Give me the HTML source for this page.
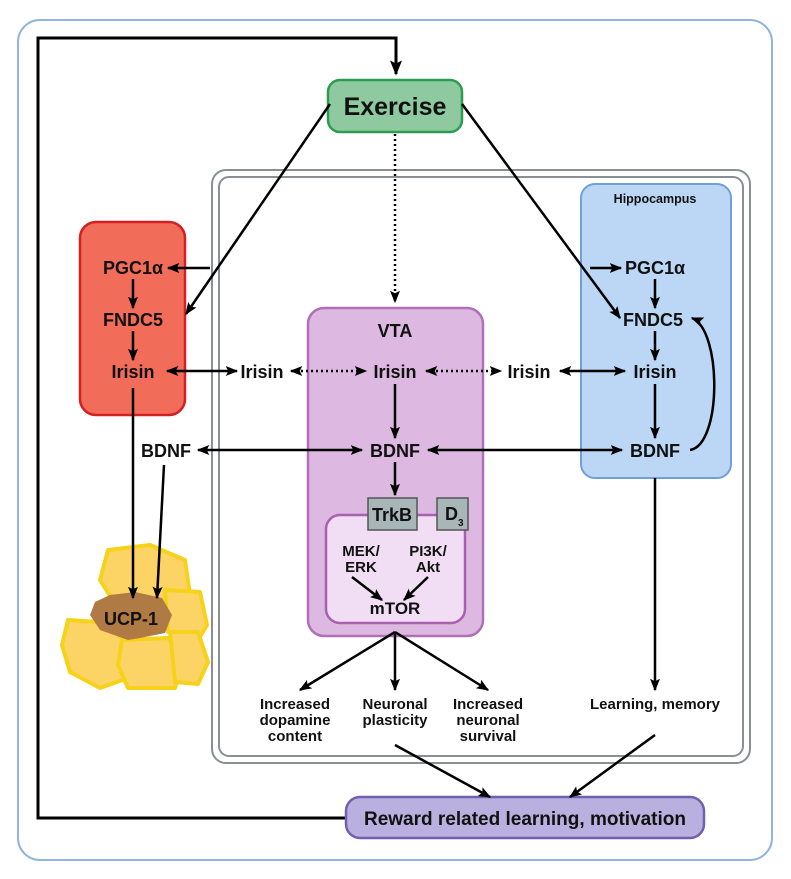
<!DOCTYPE html>
<html><head><meta charset="utf-8"><style>
html,body{margin:0;padding:0;background:#fff}
svg text{font-family:"Liberation Sans",sans-serif;font-weight:bold;fill:#111}
</style></head><body>
<svg width="791" height="874" viewBox="0 0 791 874" xmlns="http://www.w3.org/2000/svg">
<defs>
<marker id="a" viewBox="0 0 10 10" refX="9" refY="5" markerWidth="5" markerHeight="5" orient="auto-start-reverse"><path d="M0,1 L10,5 L0,9 L2,5 z" fill="#000"/></marker>
</defs>
<rect x="18" y="20" width="754" height="840" rx="22" fill="#fff" stroke="#8fb4dd" stroke-width="2"/>
<rect x="212" y="170" width="538" height="593" rx="14" fill="none" stroke="#8a8f93" stroke-width="2"/>
<rect x="219" y="177" width="524" height="579" rx="10" fill="none" stroke="#8a8f93" stroke-width="2"/>

<polyline points="345,818 38,818 38,38 396,38 396,74" fill="none" stroke="#000" stroke-width="3" marker-end="url(#a)"/>

<rect x="328" y="80" width="134" height="52" rx="12" fill="#8fc9a0" stroke="#2a9d50" stroke-width="2.5"/>
<text x="395" y="115" font-size="25" text-anchor="middle">Exercise</text>

<rect x="80" y="222" width="105" height="193" rx="16" fill="#f26c5a" stroke="#d42020" stroke-width="2.5"/>
<rect x="308" y="308" width="175" height="328" rx="16" fill="#ddb8e0" stroke="#b070b8" stroke-width="2.5"/>
<rect x="326" y="515" width="139" height="108" rx="14" fill="#f2def4" stroke="#a860b0" stroke-width="2.5"/>
<rect x="581" y="184" width="150" height="294" rx="14" fill="#bcd7f5" stroke="#6fa0d8" stroke-width="2"/>
<rect x="346" y="797" width="358" height="41" rx="14" fill="#b9b0e0" stroke="#7060b0" stroke-width="2.5"/>
<text x="525" y="825" font-size="19" text-anchor="middle">Reward related learning, motivation</text>

<g stroke="#f7d21a" stroke-width="4" fill="#fcd466" stroke-linejoin="round">
<path d="M108,550 L150,545 L185,560 L190,595 L165,608 L115,604 L100,580 Z"/>
<path d="M165,590 L200,592 L207,625 L195,645 L168,632 Z"/>
<path d="M68,620 L100,622 L125,640 L128,678 L100,688 L70,672 L62,645 Z"/>
<path d="M122,640 L168,638 L184,660 L175,688 L128,688 L118,665 Z"/>
<path d="M170,632 L198,632 L208,662 L198,684 L175,682 Z"/>
</g>
<path d="M95,602 L110,595 L135,592 L162,598 L172,615 L165,633 L140,638 L128,640 L100,630 L90,615 Z" fill="#b07a45"/>
<text x="131" y="625" font-size="18" text-anchor="middle">UCP-1</text>

<rect x="368" y="498" width="49" height="32" fill="#a9b6b8" stroke="#555" stroke-width="1.5"/>
<text x="392" y="521" font-size="18" text-anchor="middle">TrkB</text>
<rect x="437" y="498" width="31" height="32" fill="#a9b6b8" stroke="#555" stroke-width="1.5"/>
<text x="445" y="520" font-size="18">D</text><text x="458" y="526" font-size="10">3</text>

<g font-size="18" text-anchor="middle">
<text x="133" y="274">PGC1α</text>
<text x="133" y="326">FNDC5</text>
<text x="133" y="378">Irisin</text>
<text x="262" y="378">Irisin</text>
<text x="395" y="378">Irisin</text>
<text x="529" y="378">Irisin</text>
<text x="655" y="378">Irisin</text>
<text x="655" y="274">PGC1α</text>
<text x="653" y="326">FNDC5</text>
<text x="166" y="457">BDNF</text>
<text x="395" y="457">BDNF</text>
<text x="655" y="457">BDNF</text>
<text x="395" y="337">VTA</text>
</g>
<text x="655" y="203" font-size="12.5" text-anchor="middle">Hippocampus</text>
<g font-size="15" text-anchor="middle">
<text x="361" y="556">MEK/</text><text x="361" y="572">ERK</text>
<text x="428" y="556">PI3K/</text><text x="428" y="572">Akt</text>
<text x="395" y="614" font-size="17">mTOR</text>
<text x="295" y="709">Increased</text><text x="295" y="725">dopamine</text><text x="295" y="741">content</text>
<text x="395" y="709">Neuronal</text><text x="395" y="725">plasticity</text>
<text x="488" y="709">Increased</text><text x="488" y="725">neuronal</text><text x="488" y="741">survival</text>
<text x="655" y="709">Learning, memory</text>
</g>

<g stroke="#000" stroke-width="2.5" fill="none" marker-end="url(#a)">
<line x1="330" y1="104" x2="186" y2="314"/>
<line x1="210" y1="268" x2="168" y2="268"/>
<line x1="462" y1="104" x2="620" y2="318"/>
<line x1="590" y1="268" x2="621" y2="268"/>
<line x1="395" y1="134" x2="395" y2="302" stroke-dasharray="2,3"/>
<line x1="133" y1="279" x2="133" y2="308"/>
<line x1="133" y1="331" x2="133" y2="360"/>
<line x1="655" y1="279" x2="655" y2="308"/>
<line x1="655" y1="331" x2="655" y2="360"/>
<line x1="655" y1="384" x2="655" y2="438"/>
<line x1="395" y1="384" x2="395" y2="438"/>
<line x1="395" y1="462" x2="395" y2="495"/>
<line x1="167" y1="371" x2="237" y2="371" marker-start="url(#a)"/>
<line x1="291" y1="371" x2="366" y2="371" marker-start="url(#a)" stroke-dasharray="2,3"/>
<line x1="426" y1="371" x2="501" y2="371" marker-start="url(#a)" stroke-dasharray="2,3"/>
<line x1="560" y1="371" x2="625" y2="371" marker-start="url(#a)"/>
<line x1="198" y1="450" x2="362" y2="450" marker-start="url(#a)"/>
<line x1="428" y1="450" x2="622" y2="450" marker-start="url(#a)"/>
<line x1="133" y1="388" x2="133" y2="598"/>
<line x1="164" y1="465" x2="157" y2="598"/>
<line x1="352" y1="577" x2="382" y2="600"/>
<line x1="428" y1="577" x2="404" y2="600"/>
<line x1="395" y1="632" x2="300" y2="690"/>
<line x1="395" y1="632" x2="395" y2="690"/>
<line x1="395" y1="632" x2="488" y2="690"/>
<line x1="655" y1="478" x2="655" y2="690"/>
<line x1="395" y1="745" x2="490" y2="797"/>
<line x1="655" y1="735" x2="570" y2="797"/>
<path d="M690,450 C722,445 722,330 692,318"/>
</g>
</svg>
</body></html>
